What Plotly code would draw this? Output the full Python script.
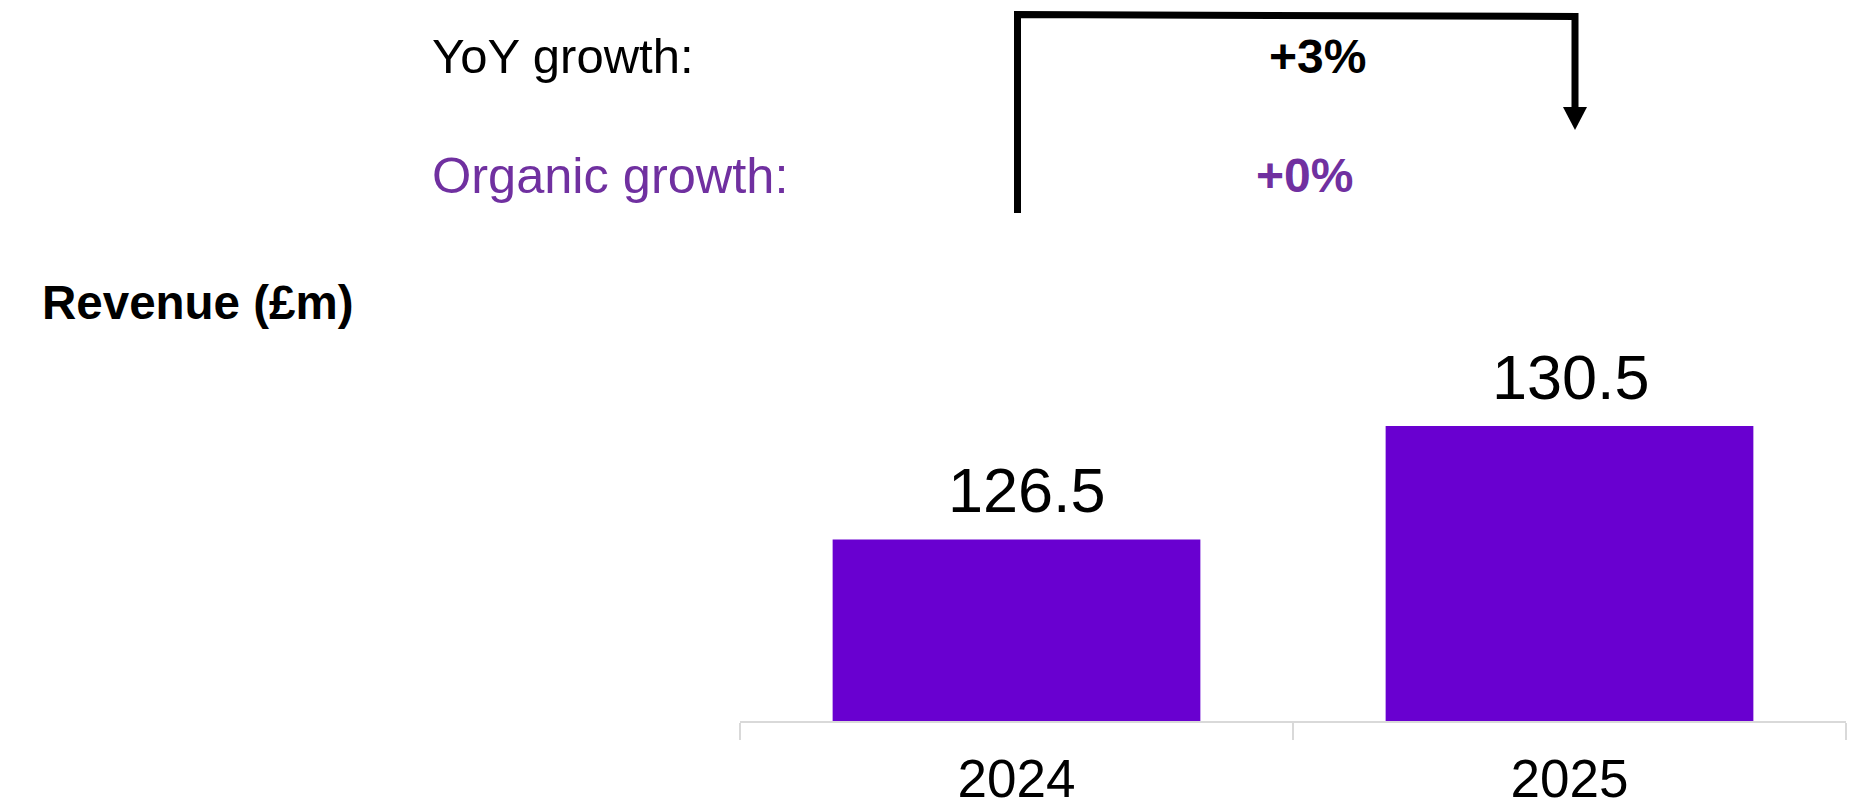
import plotly.graph_objects as go

# Revenue by year (£m)
years = ["2024", "2025"]
revenue = [126.5, 130.5]

# Growth summary lines
growth_labels = ["YoY growth:", "Organic growth:"]
growth_values = ["+3%", "+0%"]

BAR_COLOR = "#6900D0"
ORGANIC_COLOR = "#7030A0"
AXIS_COLOR = "#D9D9D9"
FONT = "Liberation Sans, Arial, sans-serif"

W, H = 1859, 811
L, R, T, B = 740, 13, 300, 90
PW, PH = W - L - R, H - T - B


def px(x):
    """Pixel column -> paper x."""
    return (x - L) / PW


def py(y):
    """Pixel row (from top) -> paper y."""
    return (H - B - y) / PH


fig = go.Figure(
    go.Bar(
        x=years,
        y=revenue,
        marker=dict(color=BAR_COLOR, line=dict(width=0)),
        hoverinfo="skip",
    )
)

# value labels above each bar (category index on the x axis)
label_xshift = [10, 1]
for i, (v, xs) in enumerate(zip(revenue, label_xshift)):
    fig.add_annotation(
        x=i, y=v, xref="x", yref="y",
        text=f"{v:.1f}", showarrow=False,
        yanchor="bottom", yshift=12, xshift=xs,
        font=dict(family=FONT, size=63, color="#000000"),
    )

# growth header
label_rows = [56, 176]
label_sizes = [49, 50.5]
label_colors = ["#000000", ORGANIC_COLOR]
value_x = [1317, 1304]
for lab, val, row, size, col, vx in zip(growth_labels, growth_values, label_rows,
                                        label_sizes, label_colors, value_x):
    fig.add_annotation(
        x=px(430), y=py(row), xref="paper", yref="paper",
        text=lab, showarrow=False, xanchor="left", yanchor="middle",
        font=dict(family=FONT, size=size, color=col),
    )
    fig.add_annotation(
        x=px(vx), y=py(row), xref="paper", yref="paper",
        text=f"<b>{val}</b>", showarrow=False, xanchor="center", yanchor="middle",
        font=dict(family=FONT, size=48, color=col),
    )

fig.add_annotation(
    x=px(40), y=py(302), xref="paper", yref="paper",
    text="<b>Revenue (£m)</b>", showarrow=False, xanchor="left", yanchor="middle",
    font=dict(family=FONT, size=47.5, color="#000000"),
)

# bracket from 2024 up, across, and down to 2025
x_left, x_right = 1017.5, 1575
fig.add_shape(
    type="path", xref="paper", yref="paper",
    path=(f"M {px(x_left)},{py(213)} L {px(x_left)},{py(14.5)} "
          f"L {px(x_right)},{py(16.5)} L {px(x_right)},{py(110)}"),
    line=dict(color="#000000", width=7),
)
fig.add_shape(
    type="path", xref="paper", yref="paper",
    path=(f"M {px(x_right - 12)},{py(107)} L {px(x_right + 12)},{py(107)} "
          f"L {px(x_right)},{py(130)} Z"),
    fillcolor="#000000", line=dict(color="#000000", width=0),
)

fig.update_layout(
    width=W, height=H,
    margin=dict(l=L, r=R, t=T, b=B, pad=0, autoexpand=False),
    paper_bgcolor="white", plot_bgcolor="white",
    bargap=0.335,
    showlegend=False,
    font=dict(family=FONT, color="#000000"),
)
fig.update_xaxes(
    type="category", range=[-0.5, 1.5], automargin=False,
    showline=True, linecolor=AXIS_COLOR, linewidth=2,
    ticks="outside", tickson="boundaries", ticklen=17, tickwidth=2, tickcolor=AXIS_COLOR,
    tickfont=dict(family=FONT, size=53, color="#000000"),
    tickangle=0, ticklabelstandoff=10,
    showgrid=False, zeroline=False, fixedrange=True,
)
fig.update_yaxes(
    visible=False, range=[120.1, 120.1 + PH / 28.375], automargin=False,
    showgrid=False, zeroline=False, fixedrange=True,
)

fig.write_html("out.html", config={"displayModeBar": False})
